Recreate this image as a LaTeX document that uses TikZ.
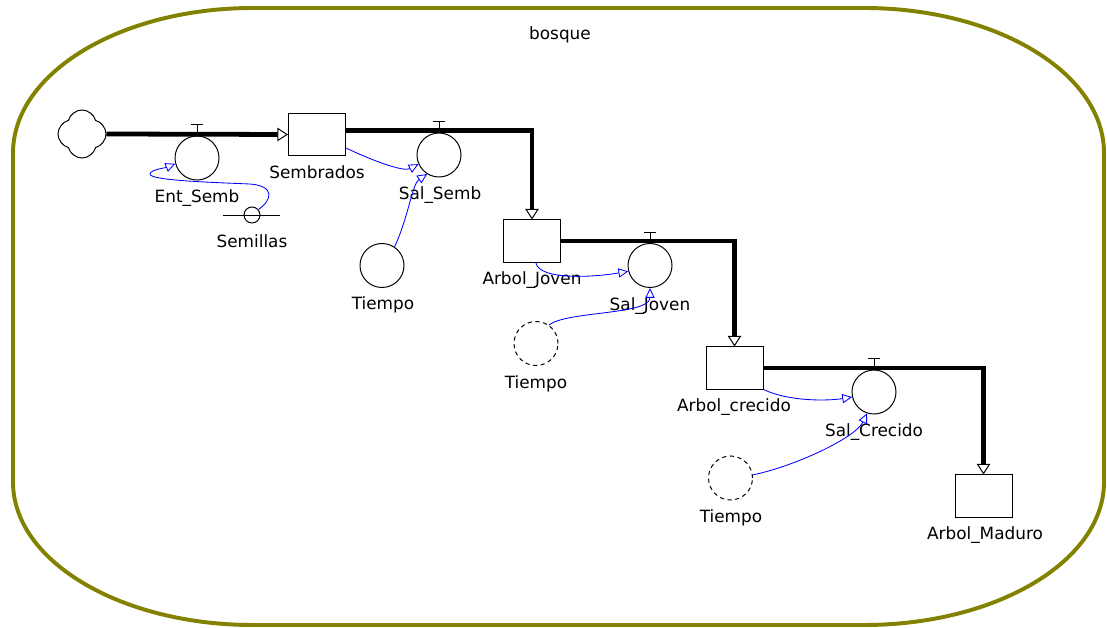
\documentclass[tikz,border=0pt]{standalone}
\usepackage{fontspec}
\setmainfont{DejaVu Sans}
\usetikzlibrary{arrows.meta, shapes.symbols}
\definecolor{borde}{RGB}{130,130,0}

\tikzset{
  stock/.style={draw, line width=0.7pt, minimum width=1.425cm, minimum height=1.05cm, inner sep=0},
  aux/.style={draw, circle, line width=0.7pt, minimum size=1.1cm, inner sep=0},
  ghost/.style={aux, dash pattern=on 3pt off 2.5pt},
  pipe/.style={line width=3.4pt, -{Triangle[open, length=7.5pt, width=9.5pt, line width=0.7pt]}},
  link/.style={blue, line width=0.6pt, -{Triangle[open, length=7pt, width=6.5pt, line width=0.6pt]}},
  lbl/.style={font=\fontsize{12}{14}\selectfont, inner sep=0, text height=9pt, text depth=0pt}
}

\begin{document}
\begin{tikzpicture}[x=0.025cm, y=-0.025cm]
    \useasboundingbox (0,0) rectangle (1107,628);

    % Module border
    \draw[borde, line width=2.8pt] (13,153) .. controls (13,73) and (120.5,8) .. (253,8)
        -- (864,8) .. controls (996.5,8) and (1104,73) .. (1104,153)
        -- (1104,482) .. controls (1104,561) and (996.5,625) .. (864,625)
        -- (253,625) .. controls (120.5,625) and (13,561) .. (13,482) -- cycle;
    \node[lbl] (bosque) at (560,33) {bosque};

    % Source
    \node[draw, cloud, cloud puffs=4, aspect=1, minimum size=1.2cm, line width=0.7pt, inner sep=0] (src) at (82,134) {};

    % Stocks
    \node[stock] (sembrados) at (317,134.5) {};
    \node[stock] (joven) at (532,241) {};
    \node[stock] (crecido) at (734.5,368) {};
    \node[stock] (maduro) at (983.5,496) {};

    % Flows
    \draw[pipe] (src.east) -- (sembrados.west);
    \draw[pipe] ([yshift=3pt]sembrados.east) -| (joven.north);
    \draw[pipe] (joven.east) -| (crecido.north);
    \draw[pipe] (crecido.east) -| (maduro.north);

    % Valves
    \node[aux] (entsemb) at (197,158) {};
    \node[aux] (salsemb) at (439,155) {};
    \node[aux] (saljoven) at (650,265.5) {};
    \node[aux] (salcrecido) at (874,392) {};
    \foreach \v in {entsemb, salsemb, saljoven, salcrecido} {
        \draw[line width=0.7pt] (\v.north) -- ++(0,-11) ++(-6,0) -- ++(12,0);
    }

    % Constant and auxiliaries
    \node[draw, circle, line width=0.7pt, minimum size=0.4cm, inner sep=0] (semillas) at (252,215) {};
    \draw[line width=0.7pt] ([xshift=-20.5pt]semillas.center) -- ([xshift=20pt]semillas.center);
    \node[aux] (tiempo1) at (382,265.5) {};
    \node[ghost] (tiempo2) at (536,343.5) {};
    \node[ghost] (tiempo3) at (730.5,478) {};

    % Labels
    \node[lbl] (l-entsemb) at (197,196) {Ent\_Semb};
    \node[lbl] (l-semillas) at (252,241) {Semillas};
    \node[lbl] (l-sembrados) at (317,172) {Sembrados};
    \node[lbl] (l-salsemb) at (440,193) {Sal\_Semb};
    \node[lbl] (l-tiempo1) at (383,303) {Tiempo};
    \node[lbl] (l-joven) at (532,278) {Arbol\_Joven};
    \node[lbl] (l-saljoven) at (650,304) {Sal\_Joven};
    \node[lbl] (l-tiempo2) at (536,382) {Tiempo};
    \node[lbl] (l-crecido) at (734,405) {Arbol\_crecido};
    \node[lbl] (l-salcrecido) at (874,430) {Sal\_Crecido};
    \node[lbl] (l-tiempo3) at (731,516) {Tiempo};
    \node[lbl] (l-maduro) at (985,533) {Arbol\_Maduro};

    % Connectors
    \draw[link] (semillas.40) .. controls +(14,-10) and +(25,2) .. (250,184)
        .. controls +(-50,-2) and +(0,6) .. (150,174)
        .. controls +(0,-4) and +(-10,4) .. (entsemb.195);
    \draw[link] (sembrados.-25) .. controls +(25,12) and +(-15,8) .. (salsemb.204);
    \draw[link] (tiempo1.56) .. controls +(14,-30) and +(-15,10) .. (salsemb.238);
    \draw[link] (joven.-80) .. controls +(3,18) and +(-35,6) .. (saljoven.195);
    \draw[link] (tiempo2.55) .. controls +(17,-14) and +(0,27) .. (saljoven.south);
    \draw[link] (crecido.south east) .. controls +(25,12) and +(-25,4) .. (salcrecido.193);
    \draw[link] (tiempo3.8) .. controls +(40,-8) and +(-12,25) .. (salcrecido.252);

\end{tikzpicture}
\end{document}
